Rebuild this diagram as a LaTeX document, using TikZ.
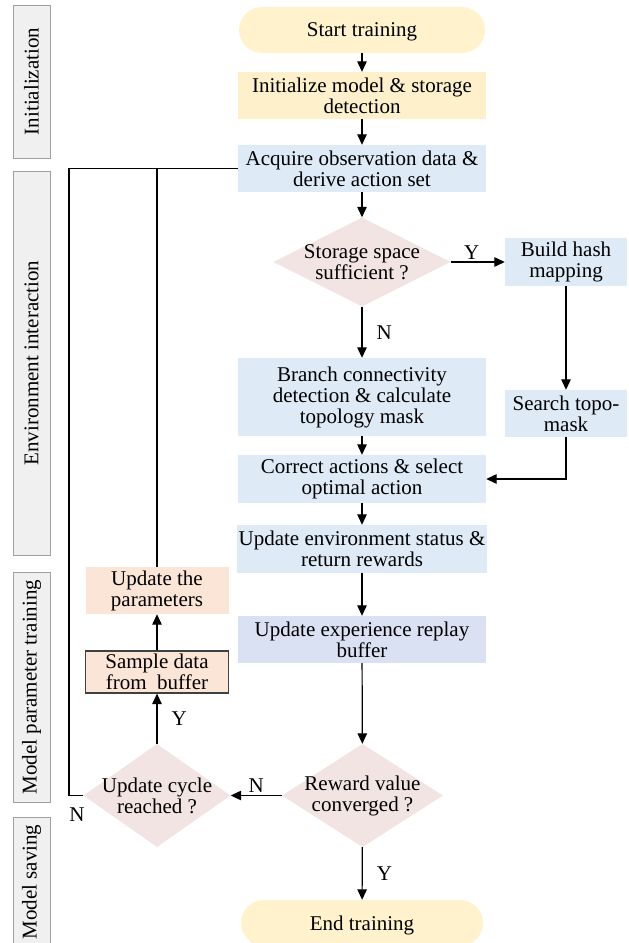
\documentclass[tikz,border=0pt]{standalone}
\usepackage{fontspec}
\setmainfont{Liberation Serif}
\usetikzlibrary{arrows.meta}

\definecolor{termfill}{HTML}{FFF2CC}
\definecolor{yellowfill}{HTML}{FEF0CB}
\definecolor{bluefill}{HTML}{DEEAF6}
\definecolor{lilacfill}{HTML}{DAE1F3}
\definecolor{peachfill}{HTML}{FBE5D6}
\definecolor{decfill}{HTML}{F3E4E4}
\definecolor{sidefill}{HTML}{F0F0F0}
\definecolor{sidedraw}{HTML}{A0A0A0}

\begin{document}
\begin{tikzpicture}[x=1pt,y=-1pt,
    every node/.style={font=\fontsize{21}{21}\selectfont, align=center, inner sep=2pt},
    box/.style={rectangle, fill=#1, minimum width=248pt, minimum height=47pt},
    terminal/.style={rectangle, rounded corners=23pt, fill=termfill, minimum width=246pt, minimum height=46pt, text depth=0pt},
    decision/.style={rectangle, path picture={\fill[decfill] (path picture bounding box.north) -- (path picture bounding box.east) -- (path picture bounding box.south) -- (path picture bounding box.west) -- cycle;}},
    sidebox/.style={rectangle, draw=sidedraw, fill=sidefill, line width=1pt, rotate=90, minimum height=37pt},
    flow/.style={-{Triangle[length=10.5pt,width=9.5pt]}, line width=1.2pt},
    line/.style={line width=1.2pt}]
\useasboundingbox (0,0) rectangle (629,943);

% stage bars
\node[sidebox, minimum width=153pt] (sinit) at (31.5,81.5) {Initialization};
\node[sidebox, minimum width=384pt] (senv) at (31.5,363) {Environment interaction};
\node[sidebox, minimum width=230pt] (strain) at (31.5,687) {Model parameter training};
\node[sidebox, minimum width=130pt] (ssave) at (31.5,882) {Model saving};

% main column
\node[terminal] (start) at (362,30) {Start training};
\node[box=yellowfill] (init) at (362,95.5) {Initialize model \& storage\\detection};
\node[box=bluefill] (acq) at (362,168.5) {Acquire observation data \&\\derive action set};
\node[decision, minimum width=177pt, minimum height=89pt] (stor) at (362,262) {Storage space\\sufficient ?};
\node[box=bluefill, minimum width=122pt, minimum height=48pt] (hash) at (566,262) {Build hash\\mapping};
\node[box=bluefill, minimum height=78pt] (branch) at (362,397) {Branch connectivity\\detection \& calculate\\topology mask};
\node[box=bluefill, minimum width=122pt] (topo) at (566,413.5) {Search topo-\\mask};
\node[box=bluefill, minimum height=48pt] (correct) at (362,479) {Correct actions \& select\\optimal action};
\node[box=bluefill, minimum height=48pt] (env) at (362,549) {Update environment status \&\\return rewards};
\node[box=lilacfill] (exp) at (362,639.5) {Update experience replay\\buffer};
\node[decision, minimum width=161pt, minimum height=103pt] (rew) at (362.5,795.5) {Reward value\\converged ?};
\node[terminal, minimum width=242pt] (stop) at (362,923) {End training};

% training column
\node[box=peachfill, minimum width=143pt] (upd) at (157,590.5) {Update the\\parameters};
\node[box=peachfill, minimum width=143pt, minimum height=42pt, draw=black!75, line width=1.2pt] (samp) at (157,672) {Sample data\\from~ buffer};
\node[decision, minimum width=147pt, minimum height=103pt] (cyc) at (157,795.5) {Update cycle\\reached ?};
\coordinate (back) at (69,168.5);

\path[flow]
    (start) edge (init)
    (init) edge (acq)
    (acq) edge (stor)
    (stor) edge node[right=12pt] {N} (branch)
    (stor) edge node[above, xshift=-6pt] {Y} (hash)
    (hash) edge (topo)
    (branch) edge (correct)
    (correct) edge (env)
    (env) edge (exp)
    (exp) edge (rew)
    (rew) edge node[above] {N} (cyc)
    (rew) edge node[right=12pt] {Y} (stop)
    (cyc) edge node[right=12pt] {Y} (samp)
    (samp) edge (upd);
\draw[flow] (topo) |- (correct);
\draw[line] (upd) |- (acq);
\draw[line] (cyc) -| (back) -- (acq);
\node (nback) at (77,815) {N};
\end{tikzpicture}
\end{document}
